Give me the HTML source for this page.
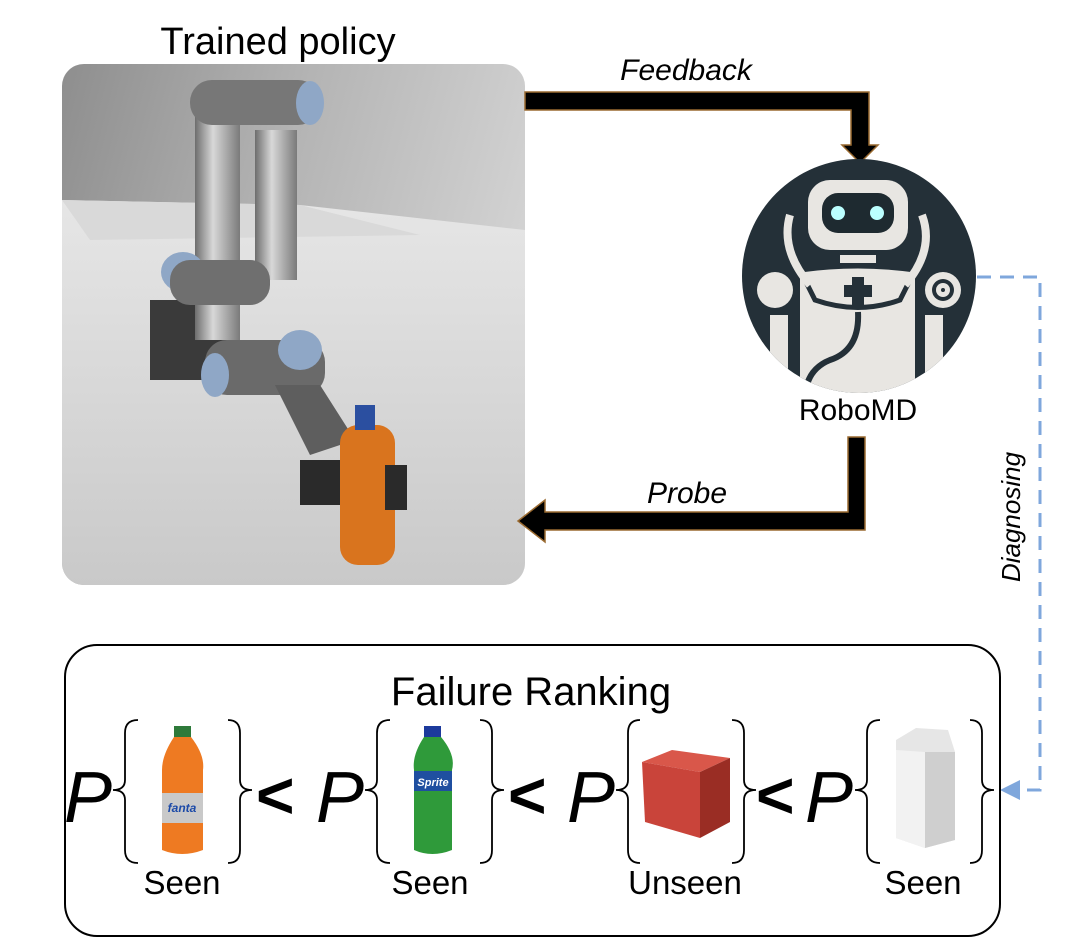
<!DOCTYPE html>
<html><head><meta charset="utf-8"><style>
html,body{margin:0;padding:0;background:#fff;}
svg{display:block;}
text{font-family:"Liberation Sans",sans-serif;}
</style></head><body>
<svg width="1086" height="943" viewBox="0 0 1086 943" xmlns="http://www.w3.org/2000/svg">
<defs>
<linearGradient id="wall" x1="0" y1="0" x2="1" y2="0.3">
<stop offset="0" stop-color="#8e8e8e"/><stop offset="0.5" stop-color="#b4b4b4"/><stop offset="1" stop-color="#d2d2d2"/></linearGradient>
<linearGradient id="table" x1="0" y1="0" x2="0" y2="1">
<stop offset="0" stop-color="#e6e6e6"/><stop offset="1" stop-color="#c9c9c9"/></linearGradient>
<linearGradient id="tube" x1="0" y1="0" x2="1" y2="0">
<stop offset="0" stop-color="#6d6d6d"/><stop offset="0.4" stop-color="#d8d8d8"/><stop offset="1" stop-color="#7a7a7a"/></linearGradient>
<clipPath id="ph"><rect x="62" y="64" width="463" height="521" rx="22"/></clipPath>
<clipPath id="cc"><circle cx="859" cy="276" r="117"/></clipPath>
</defs>

<text x="278" y="54" font-size="38" text-anchor="middle">Trained policy</text>

<g clip-path="url(#ph)">
<rect x="62" y="64" width="463" height="521" fill="url(#wall)"/>
<polygon points="62,200 300,205 525,230 525,585 62,585" fill="url(#table)"/>
<polygon points="62,200 300,205 420,235 90,240" fill="#d9d9d9"/>
<rect x="150" y="300" width="80" height="80" fill="#3a3a3a"/>
<rect x="195" y="95" width="45" height="245" fill="url(#tube)"/>
<rect x="255" y="130" width="42" height="150" fill="url(#tube)"/>
<rect x="190" y="80" width="130" height="45" rx="22" fill="#777"/>
<ellipse cx="310" cy="103" rx="14" ry="22" fill="#8fa7c6"/>
<ellipse cx="183" cy="272" rx="22" ry="20" fill="#8fa7c6"/>
<rect x="170" y="260" width="100" height="45" rx="20" fill="#6f6f6f"/>
<rect x="205" y="340" width="120" height="55" rx="22" fill="#6a6a6a"/>
<ellipse cx="300" cy="350" rx="22" ry="20" fill="#8fa7c6"/>
<ellipse cx="215" cy="375" rx="14" ry="22" fill="#8fa7c6"/>
<polygon points="275,385 320,385 355,440 310,455" fill="#5e5e5e"/>
<rect x="300" y="460" width="60" height="45" fill="#2a2a2a"/>
<rect x="340" y="425" width="55" height="140" rx="18" fill="#d9741e"/>
<rect x="355" y="405" width="20" height="25" fill="#2b4fa0"/>
<rect x="385" y="465" width="22" height="45" fill="#2a2a2a"/>
</g>

<polygon points="525,92 869,92 869,145 878,145 860,163 842,145 851,145 851,110 525,110" fill="#000" stroke="#9a6a30" stroke-width="1.5"/>
<text x="686" y="80" font-size="30" font-style="italic" text-anchor="middle">Feedback</text>

<polygon points="848,437 865,437 865,530 545,530 545,542 518,521 545,500 545,512 848,512" fill="#000" stroke="#9a6a30" stroke-width="1.5"/>
<text x="687" y="503" font-size="30" font-style="italic" text-anchor="middle">Probe</text>

<circle cx="859" cy="276" r="117" fill="#243038"/>
<g clip-path="url(#cc)">
<rect x="808" y="180" width="100" height="70" rx="22" fill="#e8e6e2"/>
<rect x="822" y="193" width="72" height="40" rx="16" fill="#1e2a30"/>
<circle cx="838" cy="213" r="7" fill="#bff"/>
<circle cx="877" cy="213" r="7" fill="#bff"/>
<rect x="840" y="255" width="36" height="8" fill="#e8e6e2"/>
<path d="M800,270 Q858,262 915,270 L915,400 L800,400 Z" fill="#e8e6e2"/>
<path d="M800,270 Q858,262 915,270 L900,300 Q858,315 815,300 Z" fill="#e8e6e2" stroke="#243038" stroke-width="5"/>
<rect x="852" y="277" width="12" height="28" fill="#243038"/><rect x="844" y="285" width="28" height="12" fill="#243038"/>
<path d="M790,215 Q780,250 810,285" fill="none" stroke="#e8e6e2" stroke-width="8"/>
<path d="M922,215 Q935,250 905,285" fill="none" stroke="#e8e6e2" stroke-width="8"/>
<path d="M858,312 Q860,350 830,360 Q805,370 805,400" fill="none" stroke="#243038" stroke-width="6"/>
<circle cx="775" cy="290" r="18" fill="#e8e6e2"/>
<rect x="770" y="315" width="18" height="80" fill="#e8e6e2"/>
<circle cx="943" cy="290" r="18" fill="#e8e6e2"/><circle cx="943" cy="290" r="11" fill="#243038"/><circle cx="943" cy="290" r="7" fill="#e8e6e2"/><circle cx="943" cy="290" r="2" fill="#243038"/>
<rect x="925" y="315" width="18" height="80" fill="#e8e6e2"/>
</g>
<text x="858" y="420" font-size="30" text-anchor="middle">RoboMD</text>

<polyline points="977,277 1040,277 1040,790 1018,790" fill="none" stroke="#7fa7dc" stroke-width="3" stroke-dasharray="14,9"/>
<polygon points="1000,790 1020,780 1020,800" fill="#7fa7dc"/>
<text x="0" y="0" font-size="26" font-style="italic" text-anchor="middle" transform="translate(1020,517) rotate(-90)">Diagnosing</text>

<rect x="65" y="645" width="935" height="291" rx="32" fill="none" stroke="#000" stroke-width="2"/>
<text x="531" y="705" font-size="40" text-anchor="middle">Failure Ranking</text>

<g font-size="72" font-style="italic">
<text x="64" y="822">P</text><text x="316" y="822">P</text><text x="567" y="822">P</text><text x="805" y="822">P</text>
</g>
<g font-size="66" font-weight="bold">
<text x="256" y="818">&lt;</text><text x="508" y="818">&lt;</text><text x="756" y="818">&lt;</text>
</g>
<g fill="none" stroke="#000" stroke-width="1.8">
<path d="M138,720 Q125,720 125,733 L125,780 Q125,790 113,790 Q125,790 125,800 L125,850 Q125,863 138,863"/>
<path d="M228,720 Q240,720 240,733 L240,780 Q240,790 252,790 Q240,790 240,800 L240,850 Q240,863 228,863"/>
<path d="M390,720 Q377,720 377,733 L377,780 Q377,790 365,790 Q377,790 377,800 L377,850 Q377,863 390,863"/>
<path d="M480,720 Q492,720 492,733 L492,780 Q492,790 504,790 Q492,790 492,800 L492,850 Q492,863 480,863"/>
<path d="M640,720 Q628,720 628,733 L628,780 Q628,790 616,790 Q628,790 628,800 L628,850 Q628,863 640,863"/>
<path d="M732,720 Q744,720 744,733 L744,780 Q744,790 756,790 Q744,790 744,800 L744,850 Q744,863 732,863"/>
<path d="M880,720 Q867,720 867,733 L867,780 Q867,790 855,790 Q867,790 867,800 L867,850 Q867,863 880,863"/>
<path d="M970,720 Q982,720 982,733 L982,780 Q982,790 994,790 Q982,790 982,800 L982,850 Q982,863 970,863"/>
</g>

<rect x="174" y="726" width="17" height="11" fill="#2e7a3a"/>
<path d="M174,737 L191,737 Q205,755 203,770 L203,850 Q182,858 162,850 L162,770 Q162,755 174,737Z" fill="#ee7a22"/>
<rect x="162" y="793" width="41" height="30" fill="#c9c9c9"/>
<text x="182" y="812" font-size="12" font-style="italic" font-weight="bold" fill="#1c4aa8" text-anchor="middle">fanta</text>
<rect x="424" y="726" width="17" height="11" fill="#1c3a9c"/>
<path d="M424,737 L441,737 Q456,755 452,770 L452,850 Q432,858 414,850 L414,770 Q412,755 424,737Z" fill="#2f9a3a"/>
<rect x="414" y="771" width="38" height="20" fill="#1f4fa0"/>
<text x="433" y="786" font-size="11" font-style="italic" font-weight="bold" fill="#fff" text-anchor="middle">Sprite</text>
<polygon points="642,762 672,750 730,758 700,772" fill="#d9574a"/>
<polygon points="642,762 700,772 700,838 645,822" fill="#c9443a"/>
<polygon points="700,772 730,758 730,822 700,838" fill="#9a2d24"/>
<polygon points="896,740 916,728 948,730 955,752 955,840 925,848 896,838" fill="#e6e6e6"/>
<polygon points="925,752 955,752 955,840 925,848" fill="#cfcfcf"/>
<polygon points="896,750 925,752 925,848 896,838" fill="#f2f2f2"/>

<g font-size="33" text-anchor="middle">
<text x="182" y="894">Seen</text><text x="430" y="894">Seen</text><text x="685" y="894">Unseen</text><text x="923" y="894">Seen</text>
</g>
</svg>
</body></html>
